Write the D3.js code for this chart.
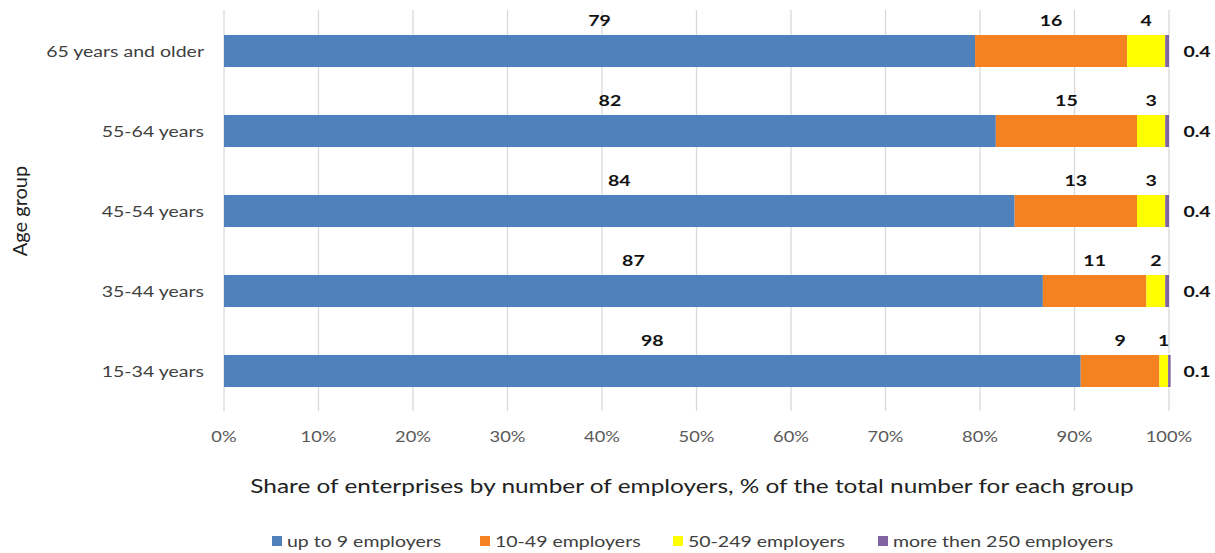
<!DOCTYPE html>
<html>
<head>
<meta charset="utf-8">
<script src="https://cdn.jsdelivr.net/npm/d3@7"></script>
<style>
  body { margin: 0; background: #fff; }
  text { font-family: Lato, "Open Sans", sans-serif; }
</style>
</head>
<body>
<svg id="chart" width="1215" height="553"></svg>
<script>
// age groups top to bottom
var groups = ["65 years and older", "55-64 years", "45-54 years", "35-44 years", "15-34 years"];
var seriesNames = ["up to 9 employers", "10-49 employers", "50-249 employers", "more then 250 employers"];
var upTo9 = [79, 82, 84, 87, 98];
var from10to49 = [16, 15, 13, 11, 9];
var from50to249 = [4, 3, 3, 2, 1];
var over250 = [0.4, 0.4, 0.4, 0.4, 0.1];
var tickLabels = ["0%", "10%", "20%", "30%", "40%", "50%", "60%", "70%", "80%", "90%", "100%"];

var colors = ["#4F81BD", "#F58220", "#FFFF00", "#8064A2"];
var sx = 1.22; // the source picture is a bit wide, stretch the text the same way

var margin = { top: 11, left: 224, right: 46 };
var width = 1215 - margin.left - margin.right,
    height = 400;

var svg = d3.select("#chart");
var g = svg.append("g").attr("transform", "translate(" + margin.left + "," + margin.top + ")");

function place(sel, fx, fy) {
    sel.attr("transform", function(d, i) {
        return "translate(" + fx(d, i) + "," + fy(d, i) + ") scale(" + sx + ",1)";
    });
}

// build rows for the stack, each row normalised to 100%
var rows = groups.map(function(name, i) {
    return { group: name, s0: upTo9[i], s1: from10to49[i], s2: from50to249[i], s3: over250[i] };
});
var stack = d3.stack().keys(["s0", "s1", "s2", "s3"]).offset(d3.stackOffsetExpand);
var layers = stack(rows);

var x = d3.scaleLinear().domain([0, 1]).range([0, width]);
var y = d3.scaleBand().domain(groups).range([0, height]).paddingInner(0.6).paddingOuter(0.3);

// vertical gridlines
g.append("g")
    .selectAll("line")
    .data(d3.range(0, 1.01, 0.1))
    .enter()
    .append("line")
    .attr("x1", function(d) { return x(d); })
    .attr("x2", function(d) { return x(d); })
    .attr("y1", -1)
    .attr("y2", height)
    .attr("stroke", "#d9d9d9")
    .attr("stroke-width", 1.3);

// bars
var layer = g.selectAll(".layer")
    .data(layers)
    .enter()
    .append("g")
    .attr("fill", function(d, i) { return colors[i]; });

layer.selectAll("rect")
    .data(function(d) { return d; })
    .enter()
    .append("rect")
    .attr("x", function(d) { return x(d[0]); })
    .attr("y", function(d) { return y(d.data.group); })
    .attr("width", function(d) { return Math.max(x(d[1]) - x(d[0]), 2.5); })
    .attr("height", y.bandwidth());

// data labels
var rawValues = [upTo9, from10to49, from50to249, over250];
layers.forEach(function(l, k) {
    var t = g.append("g")
        .selectAll("text")
        .data(l)
        .enter()
        .append("text")
        .attr("dy", "0.35em")
        .attr("text-anchor", "middle")
        .attr("font-size", 16)
        .attr("font-weight", "bold")
        .attr("fill", "#111")
        .text(function(d, i) { return rawValues[k][i]; });
    place(t,
        function(d) { return k == 3 ? x(1) + 28 : x((d[0] + d[1]) / 2); },
        function(d) { return k == 3 ? y(d.data.group) + y.bandwidth() / 2 : y(d.data.group) - 15; });
});

// y labels
var yl = g.append("g")
    .selectAll("text")
    .data(groups)
    .enter()
    .append("text")
    .attr("dy", "0.35em")
    .attr("text-anchor", "end")
    .attr("font-size", 16)
    .attr("fill", "#404040")
    .text(function(d) { return d; });
place(yl, function() { return -20; }, function(d) { return y(d) + y.bandwidth() / 2; });

// x tick labels
var xl = g.append("g")
    .selectAll("text")
    .data(tickLabels)
    .enter()
    .append("text")
    .attr("dy", "0.35em")
    .attr("text-anchor", "middle")
    .attr("font-size", 15)
    .attr("fill", "#595959")
    .text(function(d) { return d; });
place(xl, function(d, i) { return x(i / 10); }, function() { return 426; });

// axis titles
svg.append("text")
    .attr("transform", "translate(692,486) scale(" + sx + ",1)")
    .attr("dy", "0.35em")
    .attr("text-anchor", "middle")
    .attr("font-size", 20)
    .attr("fill", "#222")
    .text("Share of enterprises by number of employers, % of the total number for each group");

svg.append("text")
    .attr("transform", "translate(20,211) rotate(-90)")
    .attr("dy", "0.35em")
    .attr("text-anchor", "middle")
    .attr("font-size", 20)
    .attr("fill", "#222")
    .text("Age group");

// legend
var legendX = [272, 480, 673, 878];
var legend = svg.append("g")
    .selectAll("g")
    .data(seriesNames)
    .enter()
    .append("g")
    .attr("transform", function(d, i) { return "translate(" + legendX[i] + ",541)"; });
legend.append("rect")
    .attr("x", 0).attr("y", -5)
    .attr("width", 10).attr("height", 10)
    .attr("fill", function(d, i) { return colors[i]; });
legend.append("text")
    .attr("transform", "translate(15,0) scale(" + sx + ",1)")
    .attr("dy", "0.35em")
    .attr("font-size", 16)
    .attr("fill", "#404040")
    .text(function(d) { return d; });
</script>
</body>
</html>
